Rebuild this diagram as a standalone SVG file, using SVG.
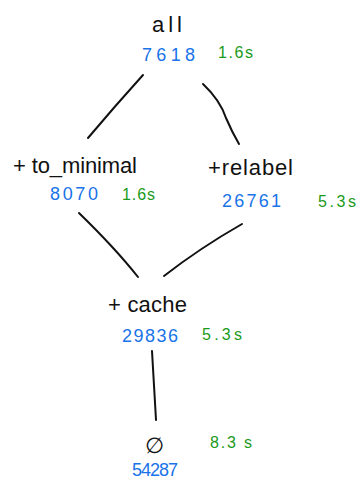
<svg xmlns="http://www.w3.org/2000/svg" width="357" height="482" viewBox="0 0 357 482">
<style>
text{font-family:"Liberation Sans","DejaVu Sans",sans-serif}
.lbl{fill:#111;font-size:22px}
.num{fill:#1a73e8;font-size:18px;letter-spacing:2px}
.time{fill:#1a9a1a;font-size:16px}
.edge{fill:none;stroke:#111;stroke-width:2;stroke-linecap:round}
</style>
<rect width="357" height="482" fill="#fff"/>
<g id="connectors">
<path class="edge" d="M143,75 Q115,106 88,138"/>
<path class="edge" d="M203,84 Q220,100 226,118 Q232,132 239,144"/>
<path class="edge" d="M79,213 Q115,248 138,277"/>
<path class="edge" d="M242,224 Q200,248 164,276"/>
<path class="edge" d="M152,351 Q154,385 156,420"/>
</g>
<g id="all">
<text class="lbl" x="152" y="32" textLength="30">all</text>
<text class="num" x="142" y="61" textLength="55">7618</text>
<text class="time" x="218" y="58" textLength="35">1.6s</text>
</g>
<g id="to_minimal">
<text class="lbl" x="13" y="173" textLength="124">+ to_minimal</text>
<text class="num" x="50" y="200" textLength="50">8070</text>
<text class="time" x="122" y="200" textLength="33">1.6s</text>
</g>
<g id="relabel">
<text class="lbl" x="208" y="175" textLength="85">+relabel</text>
<text class="num" x="222" y="207" textLength="61">26761</text>
<text class="time" x="318" y="207" textLength="38">5.3s</text>
</g>
<g id="cache">
<text class="lbl" x="108" y="312" textLength="79">+ cache</text>
<text class="num" x="122" y="342" textLength="58">29836</text>
<text class="time" x="202" y="340" textLength="40">5.3s</text>
</g>
<g id="empty">
<text class="lbl" x="145" y="453" font-size="30" textLength="28">∅</text>
<text class="num" x="132" y="476" font-size="16" textLength="48">54287</text>
<text class="time" x="210" y="448" textLength="42">8.3 s</text>
</g>
</svg>
